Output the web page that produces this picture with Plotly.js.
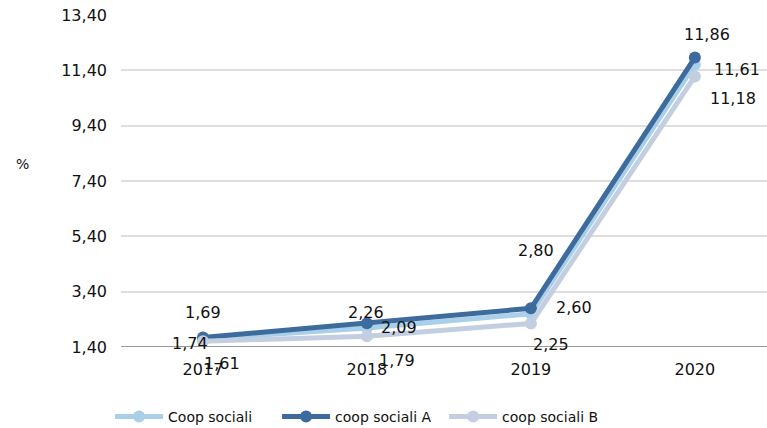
<!DOCTYPE html>
<html><head><meta charset="utf-8">
<script src="https://cdn.plot.ly/plotly-3.0.1.min.js"></script>
<style>html,body{margin:0;padding:0;background:#fff}#chart{width:767px;height:428px}</style>
</head><body><div id="chart"></div>
<script>
var years = ['2017','2018','2019','2020'];
var coopSociali = [1.69, 2.09, 2.60, 11.61];
var coopSocialiA = [1.74, 2.26, 2.80, 11.86];
var coopSocialiB = [1.61, 1.79, 2.25, 11.18];
var yTicks = [1.40, 3.40, 5.40, 7.40, 9.40, 11.40, 13.40];

var series = [
  {name:'Coop sociali', y:coopSociali, color:'#a9d0e8',
   dx:[0,32,43,42], dy:[26,0,6,-5]},
  {name:'coop sociali A', y:coopSocialiA, color:'#3d6b9e',
   dx:[-13,-1,5,12], dy:[-6,11,58,23]},
  {name:'coop sociali B', y:coopSocialiB, color:'#c3cfe1',
   dx:[19,30,20,38], dy:[-22,-24,-21,-22]}
];
var font = 'DejaVu Sans, Verdana, sans-serif';
function fmt(v){return v.toFixed(2).replace('.',',');}

var traces = series.map(function(s){
  return {x:years, y:s.y, name:s.name, type:'scatter', mode:'lines+markers',
    line:{color:s.color, width:5}, marker:{color:s.color, size:12},
    hoverinfo:'skip'};
});
var annotations = [];
series.forEach(function(s){
  s.y.forEach(function(v,i){
    annotations.push({x:i, y:v, xref:'x', yref:'y', text:fmt(v),
      showarrow:false, xshift:s.dx[i], yshift:s.dy[i],
      xanchor:'center', yanchor:'middle',
      font:{family:font, size:16, color:'#111111'}});
  });
});
annotations.push({xref:'paper', yref:'paper', x:-0.155, y:0.55, text:'%',
  showarrow:false, xshift:-7, font:{family:font, size:14, color:'#111111'}});

var layout = {
  width:767, height:428,
  margin:{l:121, r:0, t:15, b:81},
  paper_bgcolor:'#fff', plot_bgcolor:'#fff',
  font:{family:font, size:16, color:'#111111'},
  showlegend:true,
  legend:{orientation:'h', xref:'container', yref:'container',
    x:0.1435, xanchor:'left', y:0.026, yanchor:'middle',
    font:{family:font, size:14, color:'#111111'}, itemwidth:48,
    entrywidth:104, entrywidthmode:'pixels', traceorder:'normal'},
  xaxis:{type:'category', range:[-0.5, 3.44], showgrid:false, zeroline:false,
    showline:false, ticks:'', ticklabelstandoff:11, fixedrange:true},
  yaxis:{range:[1.40, 13.40], tickvals:yTicks, ticktext:yTicks.map(fmt),
    showgrid:true, gridcolor:'#dedede', gridwidth:2, zeroline:false,
    showline:false, ticks:'', ticklabelstandoff:13, fixedrange:true},
  shapes:[{type:'line', xref:'paper', yref:'y', x0:0, x1:1, y0:1.40, y1:1.40,
    line:{color:'#9a9a9a', width:2}, layer:'below'}],
  annotations:annotations
};
Plotly.newPlot('chart', traces, layout, {displayModeBar:false, staticPlot:true});
</script></body></html>
